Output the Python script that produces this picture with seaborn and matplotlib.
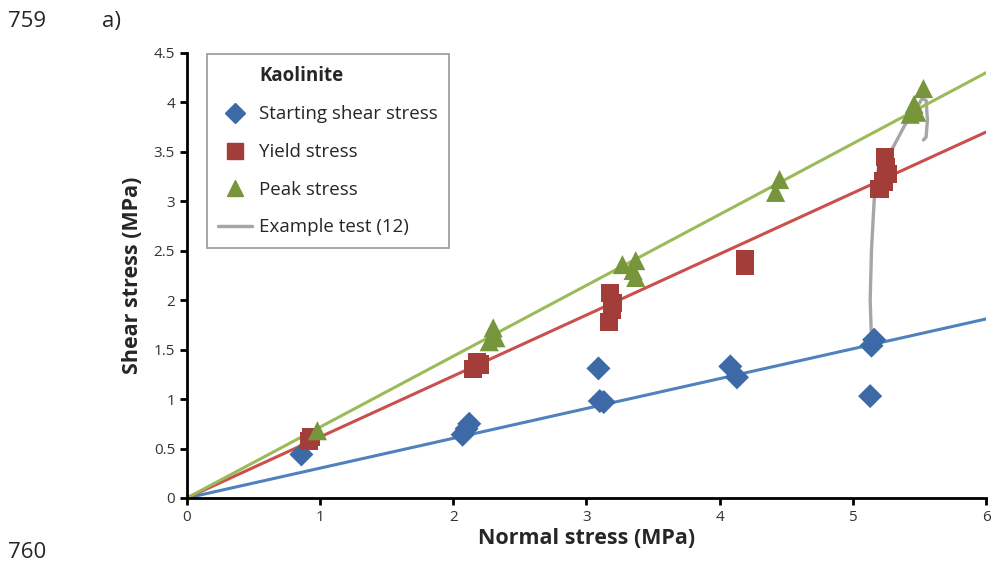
import numpy as np
import pandas as pd
import seaborn as sns
import matplotlib.pyplot as plt
from matplotlib.lines import Line2D
from matplotlib.ticker import FuncFormatter

# dados
start_x = [0.86, 2.07, 2.10, 2.12, 3.09, 3.10, 3.13, 4.08, 4.13, 5.13, 5.14, 5.16]
start_y = [0.44, 0.64, 0.70, 0.75, 1.31, 0.98, 0.97, 1.33, 1.22, 1.03, 1.54, 1.60]

yield_x = [0.92, 0.93, 2.15, 2.18, 2.20, 3.17, 3.18, 3.20, 3.19, 4.19, 4.19, 5.20, 5.23, 5.24, 5.26, 5.25]
yield_y = [0.58, 0.62, 1.30, 1.37, 1.35, 1.78, 2.07, 1.97, 1.90, 2.42, 2.35, 3.12, 3.20, 3.45, 3.28, 3.35]

peak_x = [0.98, 2.27, 2.30, 2.32, 3.27, 3.37, 3.37, 3.35, 4.42, 4.45, 5.43, 5.46, 5.48, 5.53]
peak_y = [0.68, 1.58, 1.72, 1.62, 2.36, 2.40, 2.23, 2.30, 3.09, 3.22, 3.88, 3.98, 3.90, 4.14]

test_x = [5.14, 5.13, 5.14, 5.16, 5.20, 5.30, 5.39, 5.47, 5.52, 5.55, 5.56, 5.55, 5.53]
test_y = [1.60, 2.00, 2.51, 3.01, 3.42, 3.54, 3.77, 3.92, 4.04, 4.02, 3.82, 3.65, 3.62]

trend_x = [0, 6]
start_trend = [0, 1.81]
yield_trend = [0, 3.70]
peak_trend = [0, 4.30]

azul, azul_linha = '#3D6AA6', '#4F81BD'
verm, verm_linha = '#A33D3A', '#C9504D'
verde, verde_linha = '#77963C', '#9BBB59'
cinza = '#A6A6A6'

sns.set_style('white')
plt.rcParams['font.family'] = ['Open Sans', 'DejaVu Sans']

fig = plt.figure(figsize=(9.94, 5.63), dpi=100)
ax = fig.add_axes([0.188, 0.1155, 0.804, 0.7905])

# curva do ensaio exemplo (sem agregação)
sns.lineplot(x=test_x, y=test_y, color=cinza, lw=2.4, sort=False, estimator=None, ax=ax, zorder=1)
sns.lineplot(x=trend_x, y=start_trend, color=azul_linha, lw=2.2, ax=ax, zorder=2)
sns.lineplot(x=trend_x, y=yield_trend, color=verm_linha, lw=2.2, ax=ax, zorder=2)
sns.lineplot(x=trend_x, y=peak_trend, color=verde_linha, lw=2.2, ax=ax, zorder=2)

sns.scatterplot(x=start_x, y=start_y, marker='D', s=150, color=azul, edgecolor='none', ax=ax, zorder=3)
sns.scatterplot(x=yield_x, y=yield_y, marker='s', s=170, color=verm, edgecolor='none', ax=ax, zorder=3)
sns.scatterplot(x=peak_x, y=peak_y, marker='^', s=190, color=verde, edgecolor='none', ax=ax, zorder=3)

ax.set_xlim(0, 6)
ax.set_ylim(0, 4.5)
ax.set_xticks(range(0, 7))
ax.set_yticks(np.arange(0, 4.51, 0.5))
ax.yaxis.set_major_formatter(FuncFormatter(lambda v, p: f'{v:g}'))
for s in ['top', 'right']:
    ax.spines[s].set_visible(False)
for s in ['left', 'bottom']:
    ax.spines[s].set_color('black')
    ax.spines[s].set_linewidth(2)
ax.tick_params(axis='both', direction='out', length=5, width=2, color='black',
               labelsize=11, labelcolor='#333333', left=True, bottom=True)
ax.set_xlabel('Normal stress (MPa)', fontsize=15.5, fontweight='bold', labelpad=2)
ax.set_ylabel('Shear stress (MPa)', fontsize=15.5, fontweight='bold', labelpad=8)

handles = [
    Line2D([], [], linestyle='none'),
    Line2D([], [], marker='D', color=azul, linestyle='none', markersize=10),
    Line2D([], [], marker='s', color=verm, linestyle='none', markersize=11),
    Line2D([], [], marker='^', color=verde, linestyle='none', markersize=12),
    Line2D([], [], color=cinza, lw=2.5),
]
labels = ['Kaolinite', 'Starting shear stress', 'Yield stress', 'Peak stress', 'Example test (12)']
leg = ax.legend(handles, labels, loc='upper left', bbox_to_anchor=(0.02, 1.005),
                frameon=True, fancybox=False, edgecolor='#7F7F7F', fontsize=13.5,
                handlelength=1.8, labelspacing=1.05, borderpad=0.6, handletextpad=0.4,
                borderaxespad=0.2)
leg.get_frame().set_linewidth(1.2)
leg.get_texts()[0].set_fontweight('bold')

fig.text(0.008, 0.962, '759', fontsize=16, va='center')
fig.text(0.103, 0.962, 'a)', fontsize=16, va='center')
fig.text(0.008, 0.018, '760', fontsize=16, va='center')

fig.savefig('out.png', dpi=100)
